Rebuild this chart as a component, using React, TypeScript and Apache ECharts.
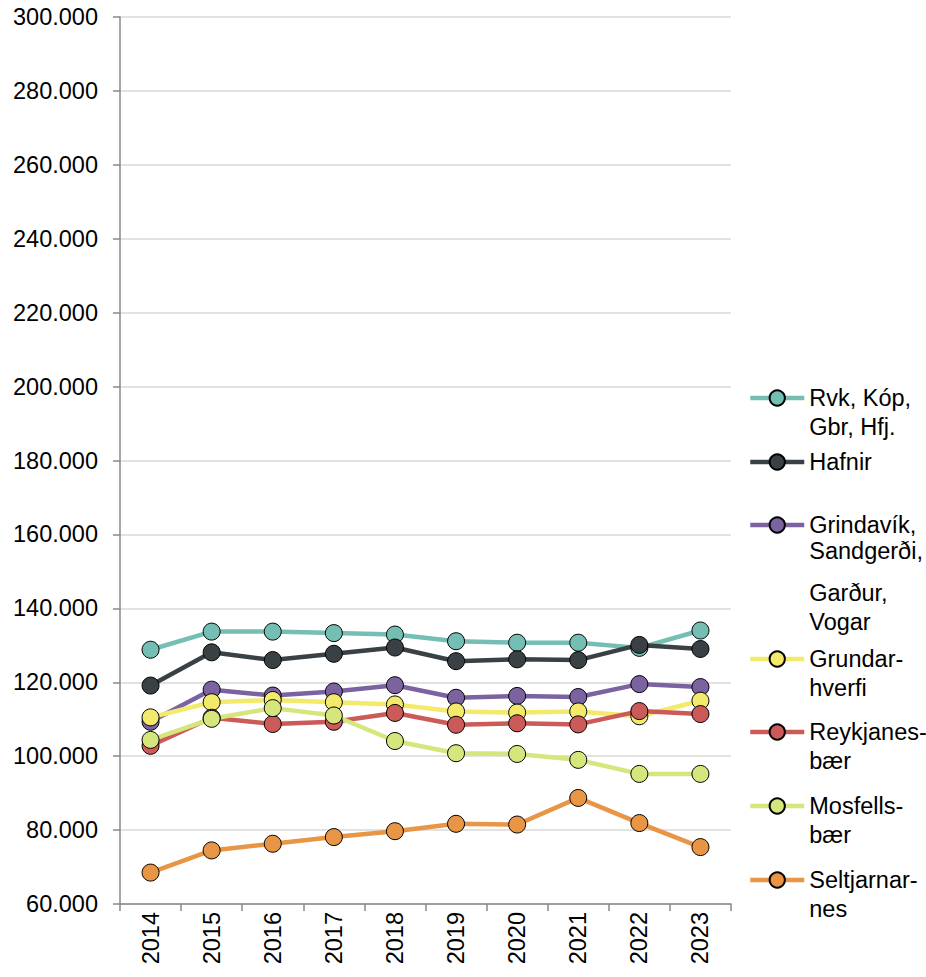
import React, { useEffect, useRef } from "react";
import * as echarts from "echarts";

const years = ["2014", "2015", "2016", "2017", "2018", "2019", "2020", "2021", "2022", "2023"];

const rvk = [128800, 133700, 133700, 133300, 132900, 131100, 130700, 130700, 129300, 134000];
const hafnir = [119100, 128100, 126000, 127700, 129400, 125700, 126200, 126000, 130100, 129000];
const grindavik = [109300, 118000, 116400, 117500, 119200, 115800, 116300, 116000, 119500, 118700];
const grundar = [110500, 114600, 115200, 114600, 114000, 112100, 111800, 112100, 110800, 115000];
const reykjanes = [102800, 110400, 108700, 109300, 111700, 108500, 108900, 108600, 112200, 111400];
const mosfells = [104400, 110100, 113000, 111000, 104100, 100800, 100600, 99000, 95200, 95200];
const seltjarnar = [68500, 74500, 76300, 78100, 79700, 81700, 81500, 88700, 81900, 75400];

const seriesNames = [
  "Rvk, Kóp,\nGbr, Hfj.",
  "Hafnir",
  "Grindavík,\nSandgerði,\nGarður,\nVogar",
  "Grundar-\nhverfi",
  "Reykjanes-\nbær",
  "Mosfells-\nbær",
  "Seltjarnar-\nnes",
];
const seriesData = [rvk, hafnir, grindavik, grundar, reykjanes, mosfells, seltjarnar];
const colors = ["#74BEB3", "#3A4145", "#7B62A0", "#F3EA6B", "#CC5A58", "#D4E67C", "#E99546"];
const legendIconY = [398, 462, 525, 659, 732, 806, 880];

const FONT = "'Liberation Sans', Arial, sans-serif";
const LH = 28.5;
const GAP = 11;
const ITEM_H = 19;

export default function App() {
  const ref = useRef<HTMLDivElement>(null);
  useEffect(() => {
    if (!ref.current) return;
    const chart = echarts.init(ref.current, undefined, { renderer: "svg" });
    const legends = seriesNames.map((name, i) => {
      const lines = name.split("\n").length;
      const isGap = i === 2;
      const box = (2 * lines - 1) * LH + (isGap ? 2 * GAP : 0);
      return {
        left: 748,
        top: legendIconY[i] - box / 2,
        orient: "vertical",
        padding: 0,
        itemWidth: 54,
        itemHeight: ITEM_H,
        data: [name],
        lineStyle: { width: 4.5 },
        formatter: (n: string) => {
          const parts = n.split("\n");
          const l = parts.length;
          if (l === 4) {
            return `{s| }\n \n \n${parts[0]}\n{t|${parts[1]}}{s| }\n${parts[2]}\n${parts[3]}`;
          }
          let s = "";
          for (let k = 1; k < l; k++) s += " \n";
          return s + n;
        },
        textStyle: {
          fontFamily: FONT,
          fontSize: 23.5,
          color: "#000",
          lineHeight: LH,
          rich: {
            s: { fontFamily: FONT, fontSize: 23.5, color: "#000", lineHeight: LH + GAP },
            t: { fontFamily: FONT, fontSize: 23.5, color: "#000", lineHeight: LH, verticalAlign: "top" },
          },
        },
      };
    });
    chart.setOption({
      animation: false,
      grid: { left: 120, right: 195, top: 17, bottom: 73, containLabel: false },
      legend: legends,
      xAxis: {
        type: "category",
        data: years,
        boundaryGap: true,
        axisLine: { lineStyle: { color: "#888", width: 1.5 } },
        axisTick: { show: true, length: 7, interval: 0, alignWithLabel: false, lineStyle: { color: "#888", width: 1.5 } },
        axisLabel: { rotate: 90, margin: 8, interval: 0, fontFamily: FONT, fontSize: 23.5, color: "#000" },
      },
      yAxis: {
        type: "value",
        min: 60000,
        max: 300000,
        interval: 20000,
        axisLine: { show: true, lineStyle: { color: "#888", width: 1.5 } },
        axisTick: { show: true, length: 7, lineStyle: { color: "#888", width: 1.5 } },
        splitLine: { lineStyle: { color: "#D9D9D9", width: 1.5 } },
        axisLabel: {
          margin: 22,
          fontFamily: FONT,
          fontSize: 23.5,
          color: "#000",
          formatter: (v: number) => `${Math.floor(v / 1000)}.${String(v % 1000).padStart(3, "0")}`,
        },
      },
      series: seriesNames.map((name, i) => ({
        name,
        type: "line",
        data: seriesData[i],
        symbol: "circle",
        symbolSize: 17,
        lineStyle: { color: colors[i], width: 4.5 },
        itemStyle: { color: colors[i], borderColor: "#000", borderWidth: 1 },
      })),
    });
    return () => chart.dispose();
  }, []);
  return (
    <div
      ref={ref}
      style={{ position: "fixed", left: 0, top: 0, width: 926, height: 977, background: "#fff" }}
    />
  );
}
